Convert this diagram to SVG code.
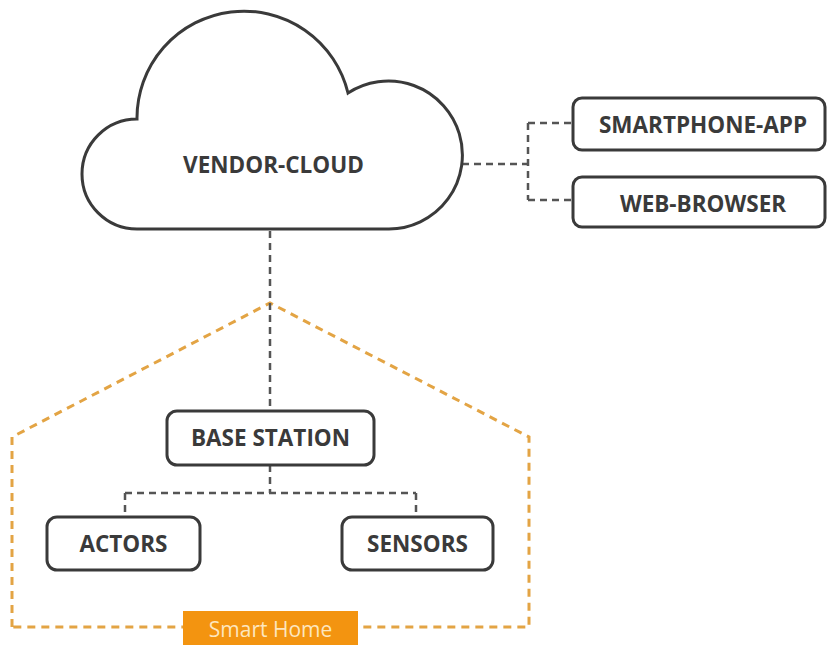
<svg xmlns="http://www.w3.org/2000/svg" width="827" height="648" viewBox="0 0 827 648">
<style>
.node{fill:#fff;stroke:#3a3a3a;stroke-width:3}
.lbl{font-family:"Open Sans","Liberation Sans",sans-serif;font-weight:bold;font-size:22.5px;fill:#3a3a3a;text-anchor:middle}
.conn{fill:none;stroke:#555;stroke-width:2.5;stroke-dasharray:7 5}
.house{fill:none;stroke:#e3a444;stroke-width:3;stroke-dasharray:8 6}
</style>
<rect width="827" height="648" fill="#fff"/>
<g id="smart-home">
<path class="house" d="M12,627 L12,437 L270,303 L529,437 L529,627 Z"/>
<rect x="183" y="611" width="175" height="34" fill="#f39410"/>
<text x="270.5" y="637" font-family="'Open Sans','Liberation Sans',sans-serif" font-size="21" fill="#fde6bf" text-anchor="middle">Smart Home</text>
</g>
<g id="connectors">
<path class="conn" d="M462,164 H528 M528,123 V200 M528,123 H573 M528,200 H573"/>
<path class="conn" d="M270,231 V411"/>
<path class="conn" d="M270,465 V493 M125,493 H416 M125,493 V517 M416,493 V517"/>
</g>
<g id="vendor-cloud">
<path class="node" d="M137,229 A55,55 0 0 1 137,119 A107,107 0 0 1 348,93 A74,74 0 1 1 389,229 Z"/>
<text class="lbl" x="273.5" y="173">VENDOR-CLOUD</text>
</g>
<g id="smartphone-app">
<rect class="node" x="573" y="98" width="252" height="52" rx="9"/>
<text class="lbl" x="703" y="133">SMARTPHONE-APP</text>
</g>
<g id="web-browser">
<rect class="node" x="573" y="177" width="252" height="50" rx="9"/>
<text class="lbl" x="703" y="212">WEB-BROWSER</text>
</g>
<g id="base-station">
<rect class="node" x="167" y="411" width="207" height="54" rx="10"/>
<text class="lbl" x="270.5" y="446">BASE STATION</text>
</g>
<g id="actors">
<rect class="node" x="47" y="517" width="153" height="53" rx="10"/>
<text class="lbl" x="123.5" y="552">ACTORS</text>
</g>
<g id="sensors">
<rect class="node" x="342" y="517" width="151" height="53" rx="10"/>
<text class="lbl" x="417.5" y="552">SENSORS</text>
</g>
</svg>
